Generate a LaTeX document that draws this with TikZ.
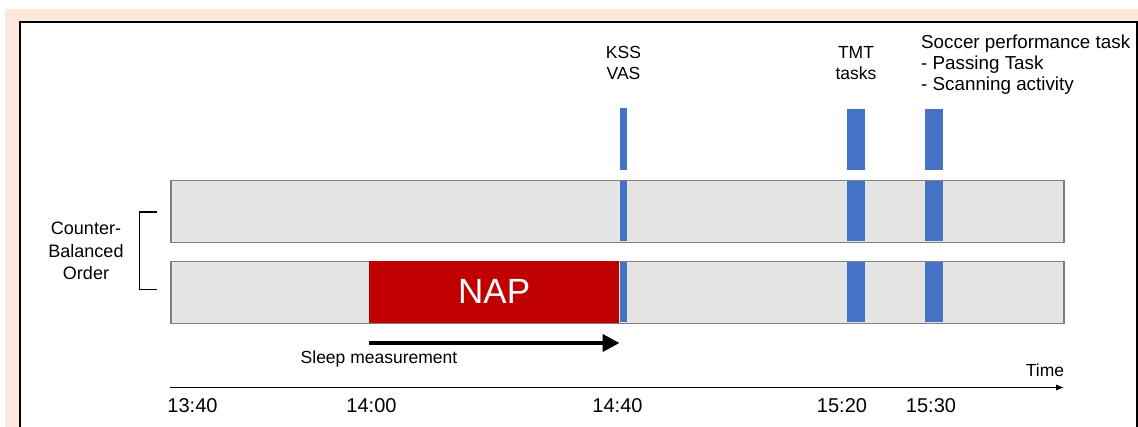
\documentclass[tikz,border=0pt]{standalone}
\usepackage{fontspec}
\setmainfont{Liberation Sans}
\usetikzlibrary{arrows.meta}
\definecolor{peach}{HTML}{FCE9DB}
\definecolor{barfill}{HTML}{E5E5E5}
\definecolor{barline}{HTML}{7F7F7F}
\definecolor{taskblue}{HTML}{4472C4}
\definecolor{napred}{HTML}{C00000}
\newcommand\myfs[2]{\fontsize{#1}{#2}\selectfont}
\begin{document}
\begin{tikzpicture}[x=1pt,y=-1pt,
  lbl/.style={inner sep=0pt, text=black},
  phase/.style={draw=barline, line width=1.5pt, fill=barfill, inner sep=0pt,
    anchor=north west, minimum width=893pt, minimum height=62pt},
  task/.style={fill=taskblue, inner sep=0pt, anchor=north west},
  tlabel/.style={lbl, anchor=base, font=\myfs{20}{24}},
  ]
\useasboundingbox (0,0) rectangle (1138,427);
% frame
\fill[peach] (5,9) rectangle (1138,427);
\fill[white] (20,22) rectangle (1137.3,427);
\draw[line width=2pt] (20,430) -- (20,22) -- (1137.3,22) -- (1137.3,430);

% phase bars
\node[phase] (bar1) at (170,180) {};
\node[phase] (bar2) at (170,261) {};
\node[fill=napred, inner sep=0pt, anchor=north west, minimum width=250pt,
  minimum height=61.5pt, text=white, font=\myfs{35}{42}] (nap) at (369,261) {NAP};

% task markers
\node[task, minimum width=7pt, minimum height=62pt] (kss0) at (620,108) {};
\node[task, minimum width=7pt, minimum height=60.5pt] (kss1) at (620,180.75) {};
\node[task, minimum width=7pt, minimum height=60.5pt] (kss2) at (620,261.75) {};
\node[task, minimum width=18pt, minimum height=61pt] (tmt0) at (847,109) {};
\node[task, minimum width=18pt, minimum height=60.5pt] (tmt1) at (847,180.75) {};
\node[task, minimum width=18pt, minimum height=60.5pt] (tmt2) at (847,261.75) {};
\node[task, minimum width=18pt, minimum height=61pt] (soc0) at (925,109) {};
\node[task, minimum width=18pt, minimum height=60.5pt] (soc1) at (925,180.75) {};
\node[task, minimum width=18pt, minimum height=60.5pt] (soc2) at (925,261.75) {};

% task labels
\node[lbl, align=center, anchor=north, font=\myfs{17.5}{21.5}] (kssl) at (623.5,45.8) {KSS\\VAS};
\node[lbl, align=center, anchor=north, font=\myfs{17.5}{21}] (tmtl) at (856,45.8) {TMT\\tasks};
\node[lbl, align=left, anchor=north west, font=\myfs{18.8}{20.8}] (socl) at (921,34.6)
  {Soccer performance task\\- Passing Task\\- Scanning activity};

% counter-balanced bracket
\node[lbl, align=center, anchor=north, font=\myfs{18}{22.5}] (cbo) at (86,222)
  {Counter-\\Balanced\\Order};
\coordinate (bt) at (157,212);
\coordinate (bb) at (157,289.3);
\draw[line width=1.5pt] (bt) -- (139.3,212) -- (139.3,289.3) -- (bb);

% sleep measurement arrow
\coordinate (s0) at (369,343);
\coordinate (s1) at (619.5,343);
\draw[line width=4pt, -{Triangle[length=17pt,width=17pt]}] (s0) -- (s1);
\node[lbl, anchor=base, font=\myfs{17.5}{21}] (sleep) at (379,363.3) {Sleep measurement};

% time axis
\coordinate (t0) at (170,387.5);
\coordinate (t1) at (1064,387.5);
\draw[line width=1.5pt, -{Latex[length=8pt,width=6.5pt]}] (t0) -- (t1);
\node[lbl, anchor=base, font=\myfs{17.5}{21}] (timel) at (1045,377) {Time};
\node[tlabel] (h1340) at (192.5,412.7) {13:40};
\node[tlabel] (h1400) at (371.5,412.7) {14:00};
\node[tlabel] (h1440) at (617.5,412.7) {14:40};
\node[tlabel] (h1520) at (842,412.7) {15:20};
\node[tlabel] (h1530) at (931,412.7) {15:30};
\end{tikzpicture}
\end{document}
